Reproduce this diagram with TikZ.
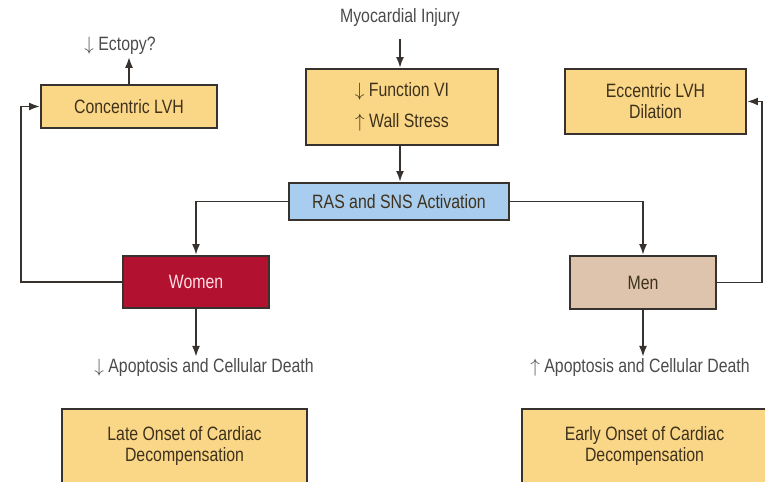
\documentclass[tikz,border=0pt]{standalone}
\usepackage{fontspec}
\setmainfont{Liberation Sans}[FakeStretch=0.82]
\usetikzlibrary{arrows.meta}

\definecolor{lvhfill}{RGB}{250,214,135}
\definecolor{rasfill}{RGB}{168,205,238}
\definecolor{womenfill}{RGB}{178,18,48}
\definecolor{menfill}{RGB}{222,196,172}
\definecolor{boxline}{RGB}{55,50,45}
\definecolor{boxtext}{RGB}{62,50,28}
\definecolor{freetext}{RGB}{75,75,75}
\definecolor{womentext}{RGB}{255,222,228}

\begin{document}
\begin{tikzpicture}[x=0.02cm,y=-0.02cm,
  every node/.style={font=\fontsize{11}{12}\selectfont},
  box/.style={draw=boxline, line width=1.1pt, fill=lvhfill, text=boxtext, align=center, inner sep=0pt},
  free/.style={text=freetext, inner sep=1pt},
  arr/.style={draw=boxline, line width=1.1pt, -{Latex[length=2.2mm,width=1.6mm]}}]
  \useasboundingbox (0,0) rectangle (765,482);
  \clip (0,0) rectangle (765,482);
  \coordinate (lbend) at (21,0);
  \coordinate (rbend) at (762,0);

  % top
  \node[free] (myo) at (400,18) {Myocardial Injury};
  \node[box, minimum width=3.84cm, minimum height=1.52cm, font=\fontsize{11}{18}\selectfont] (func) at (402,107)
    {$\downarrow$ Function VI\\$\uparrow$ Wall Stress};
  \node[box, minimum width=3.52cm, minimum height=0.86cm] (conc) at (129,106.5) {Concentric LVH};
  \node[free] (ecto) at (120,46) {$\downarrow$ Ectopy?};
  \node[box, minimum width=3.62cm, minimum height=1.3cm] (ecc) at (655.5,101.5) {Eccentric LVH\\Dilation};

  % middle
  \node[box, fill=rasfill, minimum width=4.4cm, minimum height=0.74cm] (ras) at (399,201.5) {RAS and SNS Activation};
  \node[box, fill=womenfill, text=womentext, minimum width=2.92cm, minimum height=1.04cm] (women) at (196,282) {Women};
  \node[box, fill=menfill, minimum width=2.92cm, minimum height=1.06cm] (men) at (643,282.5) {Men};
  \node[free] (wapop) at (204,368) {$\downarrow$ Apoptosis and Cellular Death};
  \node[free] (mapop) at (640,368) {$\uparrow$ Apoptosis and Cellular Death};

  % bottom
  \node[box, minimum width=4.9cm, minimum height=1.48cm] (late) at (184.5,446) {Late Onset of Cardiac\\Decompensation};
  \node[box, minimum width=4.9cm, minimum height=1.48cm] (early) at (644.5,446) {Early Onset of Cardiac\\Decompensation};

  % arrows
  \draw[arr, shorten <=0.2cm] (myo.south) -- (myo.south |- func.north);
  \draw[arr] (func.south -| myo) -- (ras.north -| myo);
  \draw[arr] (conc.north) -- (conc.north |- ecto.south);
  \draw[arr] (ras.west) -| (women.north);
  \draw[arr] (ras.east) -| (men.north);
  \draw[arr] (women.south) -- (women.south |- wapop.north);
  \draw[arr] (men.south) -- (men.south |- mapop.north);
  % loops
  \draw[arr] (women.west) -- (women.west -| lbend) -- (conc.west -| lbend) -- (conc.west);
  \draw[arr] (men.east) -- (men.east -| rbend) -- (ecc.east -| rbend) -- (ecc.east);
\end{tikzpicture}
\end{document}
